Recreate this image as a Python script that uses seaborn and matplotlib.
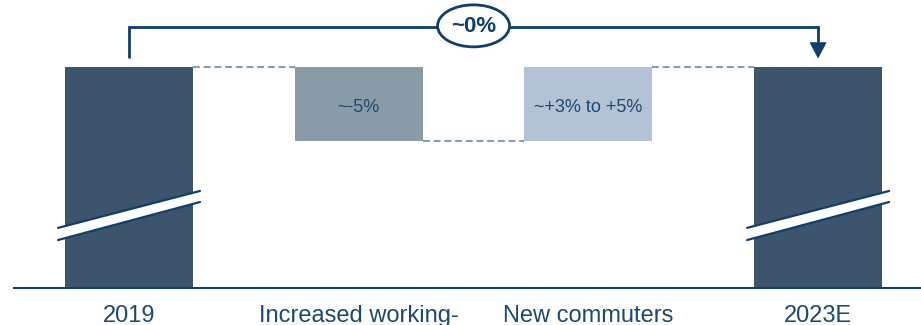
import numpy as np
import pandas as pd
import matplotlib
matplotlib.use("Agg")
import matplotlib.pyplot as plt
from matplotlib.patches import Ellipse, Polygon
import seaborn as sns

# ---- data (axis is broken; heights are display units, not to scale) ----
categories = ["2019", "Increased working-", "New commuters", "2023E"]
start_value = 100
deltas = [-33.5, 33.5]
end_value = 100
delta_labels = ["~-5%", "~+3% to +5%"]
total_label = "~0%"

sns.set_theme(style="white")
plt.rcParams["font.family"] = ["Liberation Sans", "DejaVu Sans"]

dark = "#3d556c"
delta_colors = ["#8a9ba8", "#b4c2d5"]
navy = "#0f3f6b"
text_c = "#1c4871"
dash_c = "#5b7fa5"
bar_w = 0.557

fig = plt.figure(figsize=(9.21, 3.25), dpi=100)
ax = fig.add_axes([14 / 921, 37 / 325, 1 - 14 / 921, 288 / 325])

df_tot = pd.DataFrame({"label": [categories[0], categories[3]],
                       "value": [start_value, end_value]})
sns.barplot(data=df_tot, x="label", y="value", order=categories, hue="label",
            palette={categories[0]: dark, categories[3]: dark}, width=bar_w,
            saturation=1, legend=False, ax=ax, linewidth=0)

# floating delta bars + connectors
level = start_value
for i, d in enumerate(deltas):
    pos = i + 1
    bottom = level + min(d, 0)
    ax.bar(pos, abs(d), bottom=bottom, width=bar_w, color=delta_colors[i],
           linewidth=0, zorder=2)
    ax.text(pos, bottom + abs(d) / 2 - 1.5, delta_labels[i], ha="center", va="center",
            fontsize=13, color=text_c, zorder=5)
    ax.plot([pos - 1 + bar_w / 2, pos - bar_w / 2], [level, level],
            color=dash_c, lw=1.1, ls=(0, (4.5, 2.5)), zorder=1)
    level += d
ax.plot([len(deltas) + bar_w / 2, len(deltas) + 1 - bar_w / 2], [level, level],
        color=dash_c, lw=1.1, ls=(0, (4.5, 2.5)), zorder=1)

# axis-break marks on total bars
for pos in (0, 3):
    xl, xr = pos - 0.309, pos + 0.309
    top_l, top_r = 27.2, 43.9
    bot_l, bot_r = 21.7, 38.9
    ax.add_patch(Polygon([[xl, bot_l], [xr, bot_r], [xr, top_r], [xl, top_l]],
                         closed=True, facecolor="white", edgecolor="none", zorder=3))
    ax.plot([xl, xr], [top_l, top_r], color=navy, lw=1.6, zorder=4)
    ax.plot([xl, xr], [bot_l, bot_r], color=navy, lw=1.6, zorder=4)

# bracket with arrow
y_br, y_start = 118.3, 104.1
head_base = 111.0
ax.plot([0, 0, 3, 3], [y_start, y_br, y_br, head_base + 0.5], color=navy, lw=2,
        solid_joinstyle="miter", solid_capstyle="butt", zorder=4, clip_on=False)
hw = 8 / 229.7
ax.add_patch(Polygon([[3 - hw, head_base], [3 + hw, head_base], [3, y_start]],
                     closed=True, facecolor=navy, edgecolor=navy, lw=0.5, zorder=4))
ax.add_patch(Ellipse((1.5, 118.6), width=72 / 229.7, height=19.0,
                     facecolor="white", edgecolor=navy, lw=2, zorder=5, clip_on=False))
ax.text(1.5, 118.4, total_label, ha="center", va="center", fontsize=16,
        fontweight="bold", color=navy, zorder=6)

ax.set_xlim(-0.5007, 3.448)
ax.set_ylim(0, 130.3)
ax.set_xticks(range(len(categories)))
ax.set_xticklabels(categories)
ax.tick_params(axis="x", length=0, pad=12, labelsize=17, labelcolor=text_c)
ax.set_yticks([])
ax.set_xlabel("")
ax.set_ylabel("")
for s in ("left", "top", "right"):
    ax.spines[s].set_visible(False)
ax.spines["bottom"].set_color(navy)
ax.spines["bottom"].set_linewidth(1.5)

fig.savefig("out.png", dpi=100)
